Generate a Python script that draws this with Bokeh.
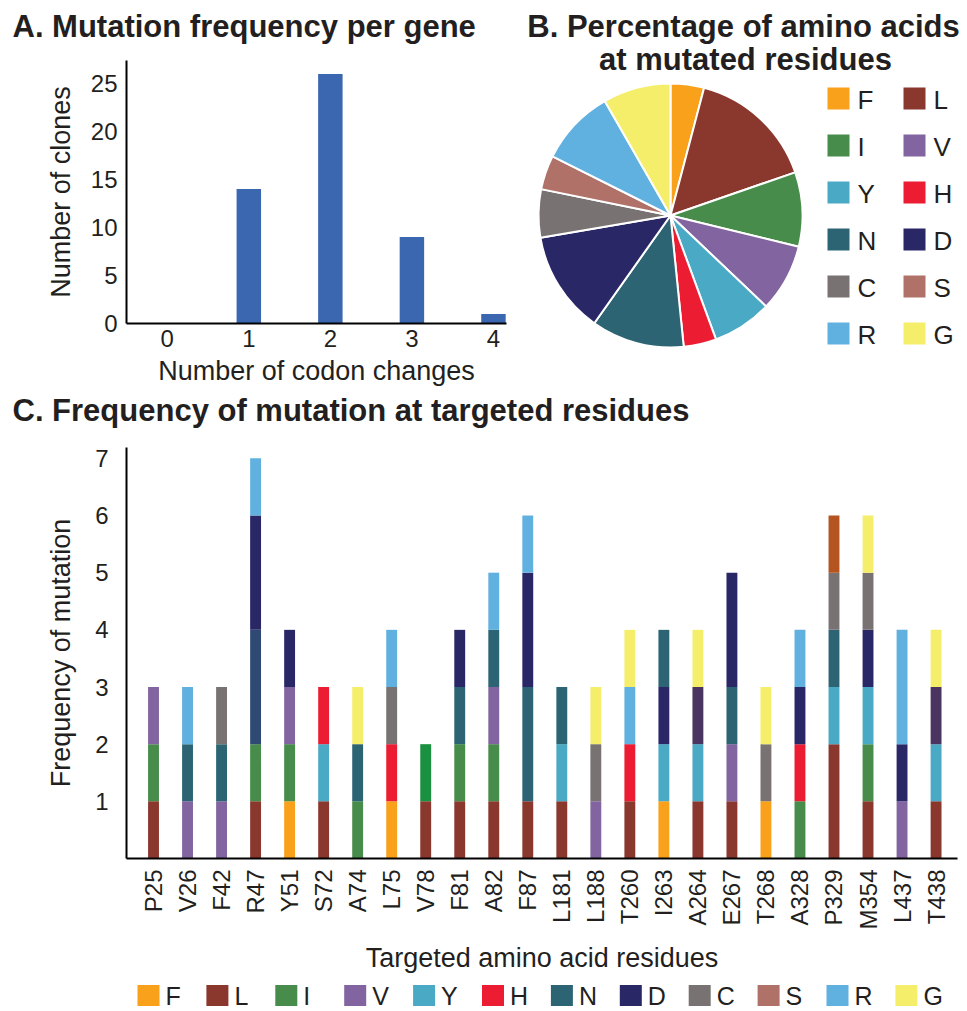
import math
from bokeh.plotting import figure
from bokeh.models import Range1d, FixedTicker, ColumnDataSource
from bokeh.layouts import column, row
from bokeh.embed import file_html
from bokeh.resources import INLINE
from bokeh.core.properties import value

FONT = "Liberation Sans"
INK = "#231f20"

# ---------------- data ----------------
# Panel A
codon_changes = [0, 1, 2, 3, 4]
clone_counts = [0, 14, 26, 9, 1]

# Panel B
amino_acids = ["F", "L", "I", "V", "Y", "H", "N", "D", "C", "S", "R", "G"]
aa_colors = ["#f9a11b", "#8a372e", "#478c4a", "#8264a0", "#4aa9c4", "#ec1c33",
             "#2d6474", "#2a2767", "#787372", "#b07168", "#60b0e0", "#f4ee6a"]
aa_percent = [4.1, 15.6, 9.1, 8.3, 7.3, 4.0, 11.4, 12.5, 5.9, 4.2, 9.3, 8.3]

# Panel C: segments from bottom to top, (amino acid, count)
residues = ["P25", "V26", "F42", "R47", "Y51", "S72", "A74", "L75", "V78", "F81",
            "A82", "F87", "L181", "L188", "T260", "I263", "A264", "E267", "T268",
            "A328", "P329", "M354", "L437", "T438"]
segments = [
    [("L", 1), ("I", 1), ("V", 1)],
    [("V", 1), ("N", 1), ("R", 1)],
    [("V", 1), ("N", 1), ("C", 1)],
    [("L", 1), ("I", 1), ("N*", 2), ("D", 2), ("R", 1)],
    [("F", 1), ("I", 1), ("V", 1), ("D", 1)],
    [("L", 1), ("Y", 1), ("H", 1)],
    [("I", 1), ("N", 1), ("G", 1)],
    [("F", 1), ("H", 1), ("C", 1), ("R", 1)],
    [("L", 1), ("I*", 1)],
    [("L", 1), ("I", 1), ("N", 1), ("D", 1)],
    [("L", 1), ("I", 1), ("V", 1), ("N", 1), ("R", 1)],
    [("L", 1), ("N", 2), ("D", 2), ("R", 1)],
    [("L", 1), ("Y", 1), ("N", 1)],
    [("V", 1), ("C", 1), ("G", 1)],
    [("L", 1), ("H", 1), ("R", 1), ("G", 1)],
    [("F", 1), ("Y", 1), ("D", 1), ("N", 1)],
    [("L", 1), ("Y", 1), ("D*", 1), ("G", 1)],
    [("L", 1), ("V", 1), ("N", 1), ("D", 2)],
    [("F", 1), ("C", 1), ("G", 1)],
    [("I", 1), ("H", 1), ("D", 1), ("R", 1)],
    [("L", 2), ("Y", 1), ("N", 1), ("C", 1), ("S*", 1)],
    [("L", 1), ("I", 1), ("Y", 1), ("D", 1), ("C", 1), ("G", 1)],
    [("V", 1), ("D", 1), ("R", 2)],
    [("L", 1), ("Y", 1), ("D*", 1), ("G", 1)],
]
# shades used in panel C that differ from the legend colours
extra_colors = {"N*": "#2e4a74", "I*": "#1a9040", "D*": "#4a3560", "S*": "#b5541f"}

color_of = dict(zip(amino_acids, aa_colors))
color_of.update(extra_colors)

COMMON = dict(output_backend="svg", toolbar_location=None, frame_align=False)
SHIFT = 0.34   # baseline correction (fraction of font size) for alphabetic text glyphs


def text_fig(width, height):
    """A figure whose frame is the whole canvas, in pixel units (y downwards)."""
    f = figure(width=width, height=height, x_range=Range1d(0, width), y_range=Range1d(height, 0),
               x_axis_type=None, y_axis_type=None, min_border_left=0, min_border_right=0,
               min_border_top=0, min_border_bottom=0, **COMMON)
    f.outline_line_color = None
    f.grid.visible = False
    return f


def style_axes(p, tick_size="24px", label_size="27px"):
    p.outline_line_color = None
    p.grid.visible = False
    for ax in p.axis:
        ax.axis_line_color = "black"
        ax.axis_line_width = 2
        ax.major_tick_line_color = None
        ax.minor_tick_line_color = None
        ax.major_tick_out = 0
        ax.major_tick_in = 0
        ax.major_label_text_font = FONT
        ax.major_label_text_font_size = tick_size
        ax.major_label_text_color = INK
        ax.axis_label_text_font = FONT
        ax.axis_label_text_font_size = label_size
        ax.axis_label_text_font_style = "normal"
        ax.axis_label_text_color = INK


TSIZE = 31
TITLE_STYLE = dict(text_font=value(FONT), text_font_size=f"{TSIZE}px", text_font_style="bold",
                   text_color=INK, text_baseline="alphabetic")
TDY = SHIFT * TSIZE

# ---------------- Panel A ----------------
tA = text_fig(510, 50)
tA.text(x=[12], y=[37 - TDY], text=["A. Mutation frequency per gene"], text_align="left", **TITLE_STYLE)

pa = figure(width=510, height=338, x_range=Range1d(-0.5, 4.16), y_range=Range1d(0, 27.4),
            min_border_left=126, min_border_right=4, min_border_top=10, min_border_bottom=65,
            **COMMON)
pa.vbar(x=codon_changes, top=clone_counts, width=0.3, fill_color="#3b67b1", line_color=None)
style_axes(pa)
pa.xaxis.ticker = FixedTicker(ticks=codon_changes)
pa.yaxis.ticker = FixedTicker(ticks=[0, 5, 10, 15, 20, 25])
pa.xaxis.major_label_standoff = 6
pa.yaxis.major_label_standoff = 9
pa.xaxis.axis_label = "Number of codon changes"
pa.yaxis.axis_label = "Number of clones"
pa.xaxis.axis_label_standoff = 6
pa.yaxis.axis_label_standoff = 12

# ---------------- Panel B ----------------
CX, CY, R = 670, 215, 132   # pie centre / radius in page pixels


def bx(px):
    return (px - CX) / R


def by(py):
    return (CY - py) / R


pb = figure(width=457, height=388, x_range=Range1d(bx(510), bx(967)), y_range=Range1d(by(388), by(0)),
            x_axis_type=None, y_axis_type=None,
            min_border_left=0, min_border_right=0, min_border_top=0, min_border_bottom=0, **COMMON)
pb.outline_line_color = None
pb.grid.visible = False
total = sum(aa_percent)
starts, ends, acc = [], [], 0.0
for v in aa_percent:
    starts.append(math.pi / 2 - 2 * math.pi * acc / total)
    acc += v
    ends.append(math.pi / 2 - 2 * math.pi * acc / total)
pb.wedge(x=0, y=0, radius=1, start_angle=starts, end_angle=ends, direction="clock",
         fill_color=aa_colors, line_color="white", line_width=2)

pb.text(x=[bx(743), bx(745)], y=[by(37 - TDY), by(70 - TDY)],
        text=["B. Percentage of amino acids", "at mutated residues"],
        text_align="center", **TITLE_STYLE)

LB = 26
leg_sq_x, leg_sq_y, leg_tx, leg_ty = [], [], [], []
for i, aa in enumerate(amino_acids):
    col, rw = i % 2, i // 2
    sx = 838 + 76 * col
    sy = 98 + 47 * rw
    leg_sq_x.append(bx(sx))
    leg_sq_y.append(by(sy))
    leg_tx.append(bx(sx + 19))
    leg_ty.append(by(sy + 10 - SHIFT * LB))
pb.rect(x=leg_sq_x, y=leg_sq_y, width=22, height=22, width_units="screen", height_units="screen",
        fill_color=aa_colors, line_color=None)
pb.text(x=leg_tx, y=leg_ty, text=amino_acids, text_font=value(FONT), text_font_size=f"{LB}px",
        text_color=INK, text_align="left", text_baseline="alphabetic")

# ---------------- Panel C ----------------
tC = text_fig(967, 50)
tC.text(x=[12], y=[33 - TDY], text=["C. Frequency of mutation at targeted residues"], text_align="left",
        **TITLE_STYLE)

pc = figure(width=967, height=537, x_range=Range1d(-0.794, 23.63), y_range=Range1d(0, 7.19),
            min_border_left=126, min_border_right=10, min_border_top=9, min_border_bottom=113,
            **COMMON)
xs, bots, tops, cols = [], [], [], []
for i, segs in enumerate(segments):
    base = 0
    for aa, n in segs:
        xs.append(i)
        bots.append(base)
        tops.append(base + n)
        cols.append(color_of[aa])
        base += n
src = ColumnDataSource(dict(x=xs, bottom=bots, top=tops, color=cols))
pc.vbar(x="x", bottom="bottom", top="top", width=0.32, fill_color="color", line_color=None, source=src)
style_axes(pc)
pc.xaxis.ticker = FixedTicker(ticks=list(range(len(residues))))
pc.xaxis.major_label_overrides = {i: r for i, r in enumerate(residues)}
pc.xaxis.major_label_orientation = math.pi / 2
pc.xaxis.major_label_standoff = 11
pc.yaxis.ticker = FixedTicker(ticks=[1, 2, 3, 4, 5, 6, 7])
pc.yaxis.major_label_standoff = 18
pc.xaxis.axis_label = "Targeted amino acid residues"
pc.yaxis.axis_label = "Frequency of mutation"
pc.xaxis.axis_label_standoff = 10
pc.yaxis.axis_label_standoff = 16

# ---------------- Panel C legend ----------------
LC = 25
pl = text_fig(967, 35)
lx = [148 + 68.9 * i for i in range(len(amino_acids))]
pl.rect(x=lx, y=[20] * len(lx), width=22, height=21, width_units="screen", height_units="screen",
        fill_color=aa_colors, line_color=None)
pl.text(x=[v + 17 for v in lx], y=[29 - SHIFT * LC] * len(lx), text=amino_acids, text_font=value(FONT),
        text_font_size=f"{LC}px", text_color=INK, text_align="left", text_baseline="alphabetic")

layout = column(row(column(tA, pa), pb), tC, pc, pl)
open("out.html", "w").write(file_html(layout, INLINE))
